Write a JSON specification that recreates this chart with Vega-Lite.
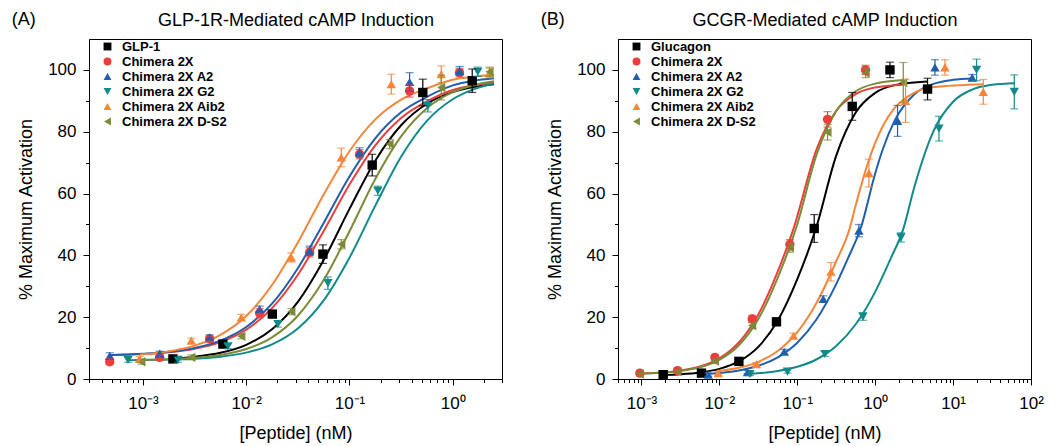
{
  "$schema": "https://vega.github.io/schema/vega-lite/v6.json",
  "padding": {"left": 11, "top": 10, "right": 5, "bottom": 0},
  "spacing": 37,
  "config": {
    "font": "Liberation Sans",
    "view": {"stroke": "black", "strokeWidth": 1},
    "axis": {"grid": false, "domainColor": "black", "tickColor": "black", "labelColor": "black", "titleColor": "black", "labelFontSize": 17, "titleFontSize": 18, "titleFontWeight": "normal", "tickSize": 6, "tickWidth": 1, "domainWidth": 1, "labelFlush": false},
    "legend": {"labelFontSize": 13, "labelFontWeight": "bold", "labelColor": "black", "symbolSize": 62, "symbolStrokeWidth": 0, "rowPadding": 1, "labelOffset": 8, "padding": 0, "labelLimit": 300},
    "title": {"anchor": "start", "frame": "bounds", "fontSize": 18, "fontWeight": "normal", "color": "black", "offset": -18, "dx": -6}
  },
  "datasets": {
    "curvesA": [
      {"s":"GLP-1","x":0.00195,"y":6.56},{"s":"GLP-1","x":0.003162,"y":7.19},{"s":"GLP-1","x":0.005623,"y":8.47},{"s":"GLP-1","x":0.01,"y":11.06},{"s":"GLP-1","x":0.01778,"y":16.08},{"s":"GLP-1","x":0.03162,"y":24.95},{"s":"GLP-1","x":0.05623,"y":38.48},{"s":"GLP-1","x":0.1,"y":55.03},{"s":"GLP-1","x":0.1778,"y":70.64},{"s":"GLP-1","x":0.3162,"y":82.1},{"s":"GLP-1","x":0.5623,"y":89.06},{"s":"GLP-1","x":1,"y":92.82},{"s":"GLP-1","x":1.585,"y":94.44},{"s":"GLP-1","x":2.512,"y":95.36},
      {"s":"Chimera 2X","x":0.000479,"y":7.72},{"s":"Chimera 2X","x":0.001,"y":8.09},{"s":"Chimera 2X","x":0.001778,"y":8.66},{"s":"Chimera 2X","x":0.003162,"y":9.79},{"s":"Chimera 2X","x":0.005623,"y":11.95},{"s":"Chimera 2X","x":0.01,"y":15.96},{"s":"Chimera 2X","x":0.01778,"y":22.92},{"s":"Chimera 2X","x":0.03162,"y":33.71},{"s":"Chimera 2X","x":0.05623,"y":47.89},{"s":"Chimera 2X","x":0.1,"y":62.92},{"s":"Chimera 2X","x":0.1778,"y":75.6},{"s":"Chimera 2X","x":0.3162,"y":84.46},{"s":"Chimera 2X","x":0.5623,"y":89.81},{"s":"Chimera 2X","x":1,"y":93.5},{"s":"Chimera 2X","x":1.585,"y":95},{"s":"Chimera 2X","x":2.512,"y":95.9},
      {"s":"Chimera 2X A2","x":0.000479,"y":7.75},{"s":"Chimera 2X A2","x":0.001,"y":8.15},{"s":"Chimera 2X A2","x":0.001778,"y":8.79},{"s":"Chimera 2X A2","x":0.003162,"y":10.04},{"s":"Chimera 2X A2","x":0.005623,"y":12.43},{"s":"Chimera 2X A2","x":0.01,"y":16.83},{"s":"Chimera 2X A2","x":0.01778,"y":24.36},{"s":"Chimera 2X A2","x":0.03162,"y":35.84},{"s":"Chimera 2X A2","x":0.05623,"y":50.5},{"s":"Chimera 2X A2","x":0.1,"y":65.54},{"s":"Chimera 2X A2","x":0.1778,"y":77.88},{"s":"Chimera 2X A2","x":0.3162,"y":86.28},{"s":"Chimera 2X A2","x":0.5623,"y":91.29},{"s":"Chimera 2X A2","x":1,"y":95},{"s":"Chimera 2X A2","x":1.585,"y":96.5},{"s":"Chimera 2X A2","x":2.512,"y":97.3},
      {"s":"Chimera 2X G2","x":0.000708,"y":6.08},{"s":"Chimera 2X G2","x":0.001778,"y":6.28},{"s":"Chimera 2X G2","x":0.003162,"y":6.58},{"s":"Chimera 2X G2","x":0.005623,"y":7.22},{"s":"Chimera 2X G2","x":0.01,"y":8.54},{"s":"Chimera 2X G2","x":0.01778,"y":11.21},{"s":"Chimera 2X G2","x":0.03162,"y":16.35},{"s":"Chimera 2X G2","x":0.05623,"y":25.44},{"s":"Chimera 2X G2","x":0.1,"y":39.26},{"s":"Chimera 2X G2","x":0.1778,"y":56.1},{"s":"Chimera 2X G2","x":0.3162,"y":71.93},{"s":"Chimera 2X G2","x":0.5623,"y":83.5},{"s":"Chimera 2X G2","x":1,"y":90.5},{"s":"Chimera 2X G2","x":1.585,"y":93.7},{"s":"Chimera 2X G2","x":2.512,"y":95.6},
      {"s":"Chimera 2X Aib2","x":0.000933,"y":7.9},{"s":"Chimera 2X Aib2","x":0.001778,"y":8.94},{"s":"Chimera 2X Aib2","x":0.003162,"y":10.8},{"s":"Chimera 2X Aib2","x":0.005623,"y":14.3},{"s":"Chimera 2X Aib2","x":0.01,"y":20.4},{"s":"Chimera 2X Aib2","x":0.01778,"y":30.4},{"s":"Chimera 2X Aib2","x":0.03162,"y":44.2},{"s":"Chimera 2X Aib2","x":0.05623,"y":59.7},{"s":"Chimera 2X Aib2","x":0.1,"y":73.7},{"s":"Chimera 2X Aib2","x":0.1778,"y":84.0},{"s":"Chimera 2X Aib2","x":0.3162,"y":90.4},{"s":"Chimera 2X Aib2","x":0.5623,"y":94.0},{"s":"Chimera 2X Aib2","x":1,"y":96.8},{"s":"Chimera 2X Aib2","x":1.585,"y":97.8},{"s":"Chimera 2X Aib2","x":2.512,"y":98.4},
      {"s":"Chimera 2X D-S2","x":0.000955,"y":6.19},{"s":"Chimera 2X D-S2","x":0.001778,"y":6.41},{"s":"Chimera 2X D-S2","x":0.003162,"y":6.85},{"s":"Chimera 2X D-S2","x":0.005623,"y":7.78},{"s":"Chimera 2X D-S2","x":0.01,"y":9.69},{"s":"Chimera 2X D-S2","x":0.01778,"y":13.47},{"s":"Chimera 2X D-S2","x":0.03162,"y":20.47},{"s":"Chimera 2X D-S2","x":0.05623,"y":32.0},{"s":"Chimera 2X D-S2","x":0.1,"y":47.8},{"s":"Chimera 2X D-S2","x":0.1778,"y":64.7},{"s":"Chimera 2X D-S2","x":0.3162,"y":78.5},{"s":"Chimera 2X D-S2","x":0.5623,"y":87.6},{"s":"Chimera 2X D-S2","x":1,"y":92.8},{"s":"Chimera 2X D-S2","x":1.585,"y":95.06},{"s":"Chimera 2X D-S2","x":2.512,"y":96.36}
    ],
    "ptsA": [
      {"s":"GLP-1","x":0.00195,"y":6.5,"err":0.8},{"s":"GLP-1","x":0.00594,"y":11.3,"err":1},{"s":"GLP-1","x":0.0179,"y":21,"err":1},{"s":"GLP-1","x":0.0553,"y":40.4,"err":3},{"s":"GLP-1","x":0.166,"y":69.2,"err":3.5},{"s":"GLP-1","x":0.513,"y":92.7,"err":4.3},{"s":"GLP-1","x":1.544,"y":96.5,"err":3.8},
      {"s":"Chimera 2X","x":0.000476,"y":5.6,"err":1},{"s":"Chimera 2X","x":0.00145,"y":7.0,"err":0.8},{"s":"Chimera 2X","x":0.00442,"y":13,"err":0.8},{"s":"Chimera 2X","x":0.01348,"y":21.3,"err":1.5},{"s":"Chimera 2X","x":0.0411,"y":41,"err":1.5},{"s":"Chimera 2X","x":0.1252,"y":72.7,"err":1.5},{"s":"Chimera 2X","x":0.382,"y":93.2,"err":2},{"s":"Chimera 2X","x":1.164,"y":99.1,"err":1.4},
      {"s":"Chimera 2X A2","x":0.000476,"y":7.5,"err":1},{"s":"Chimera 2X A2","x":0.00145,"y":8.2,"err":0.8},{"s":"Chimera 2X A2","x":0.00442,"y":13.5,"err":0.8},{"s":"Chimera 2X A2","x":0.01348,"y":22.6,"err":1},{"s":"Chimera 2X A2","x":0.0411,"y":41.5,"err":1.5},{"s":"Chimera 2X A2","x":0.1252,"y":73.3,"err":1.5},{"s":"Chimera 2X A2","x":0.382,"y":96.1,"err":3},{"s":"Chimera 2X A2","x":1.164,"y":99.7,"err":1.4},
      {"s":"Chimera 2X G2","x":0.000716,"y":6.2,"err":0.8},{"s":"Chimera 2X G2","x":0.00218,"y":6.2,"err":0.8},{"s":"Chimera 2X G2","x":0.00665,"y":10.6,"err":0.8},{"s":"Chimera 2X G2","x":0.02027,"y":17.8,"err":1},{"s":"Chimera 2X G2","x":0.0618,"y":31,"err":2},{"s":"Chimera 2X G2","x":0.1883,"y":60.9,"err":1.5},{"s":"Chimera 2X G2","x":0.574,"y":88.4,"err":2},{"s":"Chimera 2X G2","x":1.75,"y":99.4,"err":1.5},
      {"s":"Chimera 2X Aib2","x":0.000929,"y":6.5,"err":0.8},{"s":"Chimera 2X Aib2","x":0.00294,"y":12.4,"err":0.8},{"s":"Chimera 2X Aib2","x":0.00896,"y":19.9,"err":1},{"s":"Chimera 2X Aib2","x":0.02733,"y":39.3,"err":1.5},{"s":"Chimera 2X Aib2","x":0.0833,"y":71.7,"err":3},{"s":"Chimera 2X Aib2","x":0.2539,"y":95.4,"err":3.2},{"s":"Chimera 2X Aib2","x":0.774,"y":98.6,"err":2.7},{"s":"Chimera 2X Aib2","x":2.271,"y":99,"err":1.5},
      {"s":"Chimera 2X D-S2","x":0.000965,"y":5.6,"err":0.8},{"s":"Chimera 2X D-S2","x":0.00294,"y":7.0,"err":0.8},{"s":"Chimera 2X D-S2","x":0.00896,"y":13.8,"err":0.8},{"s":"Chimera 2X D-S2","x":0.02733,"y":21.8,"err":1},{"s":"Chimera 2X D-S2","x":0.0833,"y":43.6,"err":1.5},{"s":"Chimera 2X D-S2","x":0.2444,"y":76.0,"err":1.5},{"s":"Chimera 2X D-S2","x":0.774,"y":94.3,"err":4},{"s":"Chimera 2X D-S2","x":2.271,"y":99.4,"err":1.5}
    ],
    "curvesB": [
      {"s":"Glucagon","x":0.001905,"y":1.27},{"s":"Glucagon","x":0.003162,"y":1.52},{"s":"Glucagon","x":0.005623,"y":2.09},{"s":"Glucagon","x":0.01,"y":3.28},{"s":"Glucagon","x":0.01778,"y":5.69},{"s":"Glucagon","x":0.03162,"y":10.4},{"s":"Glucagon","x":0.05623,"y":18.9},{"s":"Glucagon","x":0.1,"y":32.3},{"s":"Glucagon","x":0.1738,"y":48.75},{"s":"Glucagon","x":0.3162,"y":72.25},{"s":"Glucagon","x":0.5623,"y":86.2},{"s":"Glucagon","x":1,"y":92.57},{"s":"Glucagon","x":1.778,"y":95.07},{"s":"Glucagon","x":4.677,"y":96.25},
      {"s":"Chimera 2X","x":0.000955,"y":1.76},{"s":"Chimera 2X","x":0.001778,"y":2.08},{"s":"Chimera 2X","x":0.003162,"y":2.71},{"s":"Chimera 2X","x":0.005623,"y":4.02},{"s":"Chimera 2X","x":0.01,"y":6.67},{"s":"Chimera 2X","x":0.01778,"y":11.8},{"s":"Chimera 2X","x":0.03162,"y":20.9},{"s":"Chimera 2X","x":0.05623,"y":34.8},{"s":"Chimera 2X","x":0.08913,"y":48.5},{"s":"Chimera 2X","x":0.1778,"y":74.46},{"s":"Chimera 2X","x":0.3162,"y":86.78},{"s":"Chimera 2X","x":0.5623,"y":92.2},{"s":"Chimera 2X","x":1,"y":94.3},{"s":"Chimera 2X","x":2.291,"y":95.23},
      {"s":"Chimera 2X A2","x":0.007244,"y":1.67},{"s":"Chimera 2X A2","x":0.01778,"y":2.78},{"s":"Chimera 2X A2","x":0.03162,"y":4.29},{"s":"Chimera 2X A2","x":0.05623,"y":7.02},{"s":"Chimera 2X A2","x":0.1,"y":11.75},{"s":"Chimera 2X A2","x":0.1778,"y":19.43},{"s":"Chimera 2X A2","x":0.3162,"y":30.7},{"s":"Chimera 2X A2","x":0.4467,"y":39.0},{"s":"Chimera 2X A2","x":0.6607,"y":49.25},{"s":"Chimera 2X A2","x":1,"y":66.5},{"s":"Chimera 2X A2","x":1.259,"y":74.5},{"s":"Chimera 2X A2","x":1.778,"y":83.6},{"s":"Chimera 2X A2","x":3.162,"y":92.06},{"s":"Chimera 2X A2","x":5.623,"y":95.5},{"s":"Chimera 2X A2","x":10,"y":96.78},{"s":"Chimera 2X A2","x":17.78,"y":97.24},
      {"s":"Chimera 2X G2","x":0.02455,"y":1.65},{"s":"Chimera 2X G2","x":0.05623,"y":2.58},{"s":"Chimera 2X G2","x":0.1,"y":3.94},{"s":"Chimera 2X G2","x":0.1778,"y":6.39},{"s":"Chimera 2X G2","x":0.3162,"y":10.66},{"s":"Chimera 2X G2","x":0.5623,"y":17.7},{"s":"Chimera 2X G2","x":1,"y":28.2},{"s":"Chimera 2X G2","x":1.585,"y":39.0},{"s":"Chimera 2X G2","x":2.291,"y":48.5},{"s":"Chimera 2X G2","x":3.162,"y":61.9},{"s":"Chimera 2X G2","x":5.623,"y":80.3},{"s":"Chimera 2X G2","x":10,"y":89.7},{"s":"Chimera 2X G2","x":17.78,"y":93.7},{"s":"Chimera 2X G2","x":31.62,"y":95.2},{"s":"Chimera 2X G2","x":61.66,"y":95.7},
      {"s":"Chimera 2X Aib2","x":0.009661,"y":2.57},{"s":"Chimera 2X Aib2","x":0.01778,"y":3.64},{"s":"Chimera 2X Aib2","x":0.03162,"y":5.56},{"s":"Chimera 2X Aib2","x":0.05623,"y":9.06},{"s":"Chimera 2X Aib2","x":0.1,"y":15.13},{"s":"Chimera 2X Aib2","x":0.1778,"y":24.76},{"s":"Chimera 2X Aib2","x":0.3162,"y":38.1},{"s":"Chimera 2X Aib2","x":0.4677,"y":48.5},{"s":"Chimera 2X Aib2","x":0.5623,"y":56.2},{"s":"Chimera 2X Aib2","x":0.7943,"y":69.35},{"s":"Chimera 2X Aib2","x":1,"y":76.4},{"s":"Chimera 2X Aib2","x":1.259,"y":81.96},{"s":"Chimera 2X Aib2","x":1.778,"y":87.7},{"s":"Chimera 2X Aib2","x":3.162,"y":92.6},{"s":"Chimera 2X Aib2","x":5.623,"y":94.44},{"s":"Chimera 2X Aib2","x":24.55,"y":95.4},
      {"s":"Chimera 2X D-S2","x":0.000955,"y":1.73},{"s":"Chimera 2X D-S2","x":0.001778,"y":2.02},{"s":"Chimera 2X D-S2","x":0.003162,"y":2.59},{"s":"Chimera 2X D-S2","x":0.005623,"y":3.78},{"s":"Chimera 2X D-S2","x":0.01,"y":6.19},{"s":"Chimera 2X D-S2","x":0.01778,"y":10.9},{"s":"Chimera 2X D-S2","x":0.03162,"y":19.4},{"s":"Chimera 2X D-S2","x":0.05623,"y":32.8},{"s":"Chimera 2X D-S2","x":0.09772,"y":49.25},{"s":"Chimera 2X D-S2","x":0.1778,"y":72.75},{"s":"Chimera 2X D-S2","x":0.3162,"y":86.7},{"s":"Chimera 2X D-S2","x":0.5623,"y":93.1},{"s":"Chimera 2X D-S2","x":1,"y":95.57},{"s":"Chimera 2X D-S2","x":2.291,"y":96.7}
    ],
    "ptsB": [
      {"s":"Glucagon","x":0.0019,"y":1.4,"err":0.5},{"s":"Glucagon","x":0.00589,"y":1.9,"err":0.5},{"s":"Glucagon","x":0.01781,"y":5.7,"err":0.8},{"s":"Glucagon","x":0.0541,"y":18.5,"err":1},{"s":"Glucagon","x":0.165,"y":48.7,"err":4.5},{"s":"Glucagon","x":0.5075,"y":88.2,"err":4.5},{"s":"Glucagon","x":1.547,"y":100,"err":2.5},{"s":"Glucagon","x":4.7,"y":93.8,"err":3.5},
      {"s":"Chimera 2X","x":0.000954,"y":1.9,"err":0.5},{"s":"Chimera 2X","x":0.0029,"y":2.7,"err":0.5},{"s":"Chimera 2X","x":0.00876,"y":7.0,"err":0.8},{"s":"Chimera 2X","x":0.02638,"y":19.4,"err":1.2},{"s":"Chimera 2X","x":0.0804,"y":43.6,"err":1.5},{"s":"Chimera 2X","x":0.2445,"y":84,"err":2.5},{"s":"Chimera 2X","x":0.752,"y":100,"err":1.5},
      {"s":"Chimera 2X A2","x":0.00719,"y":1.4,"err":0.5},{"s":"Chimera 2X A2","x":0.02297,"y":2.2,"err":0.5},{"s":"Chimera 2X A2","x":0.068,"y":8.8,"err":0.8},{"s":"Chimera 2X A2","x":0.2153,"y":25.9,"err":1},{"s":"Chimera 2X A2","x":0.6187,"y":48,"err":2},{"s":"Chimera 2X A2","x":1.937,"y":83.5,"err":5},{"s":"Chimera 2X A2","x":5.85,"y":100.8,"err":2.5},{"s":"Chimera 2X A2","x":17.6,"y":97.5,"err":1},
      {"s":"Chimera 2X G2","x":0.02465,"y":1.6,"err":0.5},{"s":"Chimera 2X G2","x":0.0749,"y":2.4,"err":0.5},{"s":"Chimera 2X G2","x":0.2264,"y":8.1,"err":0.8},{"s":"Chimera 2X G2","x":0.6964,"y":20.2,"err":1.2},{"s":"Chimera 2X G2","x":2.141,"y":45.8,"err":1.5},{"s":"Chimera 2X G2","x":6.59,"y":81,"err":4},{"s":"Chimera 2X G2","x":20.02,"y":100,"err":3.5},{"s":"Chimera 2X G2","x":61.0,"y":92.9,"err":5.5},
      {"s":"Chimera 2X Aib2","x":0.00966,"y":1.9,"err":0.5},{"s":"Chimera 2X Aib2","x":0.02996,"y":4.8,"err":0.5},{"s":"Chimera 2X Aib2","x":0.0895,"y":14,"err":0.8},{"s":"Chimera 2X Aib2","x":0.2703,"y":34.7,"err":3},{"s":"Chimera 2X Aib2","x":0.8316,"y":66.6,"err":4.5},{"s":"Chimera 2X Aib2","x":2.454,"y":90,"err":7},{"s":"Chimera 2X Aib2","x":7.87,"y":100.8,"err":2.5},{"s":"Chimera 2X Aib2","x":24.4,"y":92.9,"err":4},
      {"s":"Chimera 2X D-S2","x":0.000954,"y":1.6,"err":0.5},{"s":"Chimera 2X D-S2","x":0.0029,"y":2.4,"err":0.5},{"s":"Chimera 2X D-S2","x":0.00876,"y":5.8,"err":0.8},{"s":"Chimera 2X D-S2","x":0.02638,"y":17.3,"err":1},{"s":"Chimera 2X D-S2","x":0.0804,"y":42.5,"err":1.5},{"s":"Chimera 2X D-S2","x":0.2445,"y":79.8,"err":2.5},{"s":"Chimera 2X D-S2","x":0.752,"y":99,"err":1.5},{"s":"Chimera 2X D-S2","x":2.293,"y":95.9,"err":6.5}
    ]
  },
  "resolve": {"scale": {"color": "independent", "shape": "independent", "stroke": "independent"}},
  "hconcat": [
    {
      "width": 413, "height": 340,
      "title": {"text": "(A)"},
      "resolve": {"axis": {"x": "independent", "y": "independent"}},
      "layer": [
        {
          "data": {"name": "curvesA"},
          "mark": {"type": "line", "strokeWidth": 2, "interpolate": "monotone"},
          "encoding": {
            "x": {"field": "x", "type": "quantitative", "scale": {"type": "log", "domain": [0.0003, 3], "nice": false},
                  "axis": {"orient": "bottom", "values": [0.001, 0.01, 0.1, 1], "labelPadding": 10, "titlePadding": 13, "title": "[Peptide] (nM)",
                           "labelExpr": "datum.value < 0.005 ? '10⁻³' : datum.value < 0.05 ? '10⁻²' : datum.value < 0.5 ? '10⁻¹' : '10⁰'"}},
            "y": {"field": "y", "type": "quantitative", "scale": {"domain": [0, 110], "nice": false},
                  "axis": {"orient": "left", "values": [0, 20, 40, 60, 80, 100], "labelPadding": 7, "titlePadding": 12, "title": "% Maximum Activation"}},
            "stroke": {"field": "s", "type": "nominal", "legend": null,
                      "scale": {"range": ["#ec3f3c", "#1f5fae", "#f5863a", "#7b8b38", "#128a8a", "#000000"]}}
          }
        },
        {
          "data": {"name": "ptsA"},
          "mark": {"type": "point", "filled": true, "size": 88, "opacity": 1},
          "encoding": {
            "x": {"field": "x", "type": "quantitative", "scale": {"type": "log"},
                  "axis": {"orient": "bottom", "title": null, "labels": false, "domain": false, "tickSize": 3.5,
                           "values": [0.0003, 0.0004, 0.0005, 0.0006, 0.0007, 0.0008, 0.0009, 0.002, 0.003, 0.004, 0.005, 0.006, 0.007, 0.008, 0.009, 0.02, 0.03, 0.04, 0.05, 0.06, 0.07, 0.08, 0.09, 0.2, 0.3, 0.4, 0.5, 0.6, 0.7, 0.8, 0.9, 2, 3]}},
            "y": {"field": "y", "type": "quantitative",
                  "axis": {"orient": "left", "title": null, "labels": false, "domain": false, "tickSize": 3.5, "values": [10, 30, 50, 70, 90]}},
            "color": {"field": "s", "type": "nominal", "legend": {"title": null, "orient": "none", "legendX": 12, "legendY": 1},
                      "scale": {"domain": ["GLP-1", "Chimera 2X", "Chimera 2X A2", "Chimera 2X G2", "Chimera 2X Aib2", "Chimera 2X D-S2"],
                                "range": ["#000000", "#ec3f3c", "#1f5fae", "#128a8a", "#f5863a", "#7b8b38"]}},
            "shape": {"field": "s", "type": "nominal", "legend": {"title": null, "orient": "none", "legendX": 12, "legendY": 1},
                      "scale": {"domain": ["GLP-1", "Chimera 2X", "Chimera 2X A2", "Chimera 2X G2", "Chimera 2X Aib2", "Chimera 2X D-S2"],
                                "range": ["square", "circle", "triangle-up", "triangle-down", "triangle-up", "triangle-left"]}}
          }
        },
        {
          "data": {"name": "ptsA"},
          "mark": {"type": "errorbar", "ticks": {"size": 8}, "thickness": 1.2},
          "encoding": {
            "x": {"field": "x", "type": "quantitative", "scale": {"type": "log"},
                  "axis": {"orient": "top", "title": "GLP-1R-Mediated cAMP Induction", "domain": false, "ticks": false, "labels": false, "titlePadding": 10}},
            "y": {"field": "y", "type": "quantitative", "axis": null},
            "yError": {"field": "err"},
            "color": {"field": "s", "type": "nominal"}
          }
        }
      ]
    },
    {
      "width": 413, "height": 340,
      "title": {"text": "(B)"},
      "resolve": {"axis": {"x": "independent", "y": "independent"}},
      "layer": [
        {
          "data": {"name": "curvesB"},
          "mark": {"type": "line", "strokeWidth": 2, "interpolate": "monotone"},
          "encoding": {
            "x": {"field": "x", "type": "quantitative", "scale": {"type": "log", "domain": [0.0005, 100], "nice": false},
                  "axis": {"orient": "bottom", "values": [0.001, 0.01, 0.1, 1, 10, 100], "labelPadding": 10, "titlePadding": 13, "title": "[Peptide] (nM)",
                           "labelExpr": "datum.value < 0.005 ? '10⁻³' : datum.value < 0.05 ? '10⁻²' : datum.value < 0.5 ? '10⁻¹' : datum.value < 5 ? '10⁰' : datum.value < 50 ? '10¹' : '10²'"}},
            "y": {"field": "y", "type": "quantitative", "scale": {"domain": [0, 110], "nice": false},
                  "axis": {"orient": "left", "values": [0, 20, 40, 60, 80, 100], "labelPadding": 7, "titlePadding": 12, "title": "% Maximum Activation"}},
            "stroke": {"field": "s", "type": "nominal", "legend": null,
                      "scale": {"range": ["#ec3f3c", "#1f5fae", "#f5863a", "#7b8b38", "#128a8a", "#000000"]}}
          }
        },
        {
          "data": {"name": "ptsB"},
          "mark": {"type": "point", "filled": true, "size": 88, "opacity": 1},
          "encoding": {
            "x": {"field": "x", "type": "quantitative", "scale": {"type": "log"},
                  "axis": {"orient": "bottom", "title": null, "labels": false, "domain": false, "tickSize": 3.5,
                           "values": [0.0005, 0.0006, 0.0007, 0.0008, 0.0009, 0.002, 0.003, 0.004, 0.005, 0.006, 0.007, 0.008, 0.009, 0.02, 0.03, 0.04, 0.05, 0.06, 0.07, 0.08, 0.09, 0.2, 0.3, 0.4, 0.5, 0.6, 0.7, 0.8, 0.9, 2, 3, 4, 5, 6, 7, 8, 9, 20, 30, 40, 50, 60, 70, 80, 90]}},
            "y": {"field": "y", "type": "quantitative",
                  "axis": {"orient": "left", "title": null, "labels": false, "domain": false, "tickSize": 3.5, "values": [10, 30, 50, 70, 90]}},
            "color": {"field": "s", "type": "nominal", "legend": {"title": null, "orient": "none", "legendX": 12, "legendY": 1},
                      "scale": {"domain": ["Glucagon", "Chimera 2X", "Chimera 2X A2", "Chimera 2X G2", "Chimera 2X Aib2", "Chimera 2X D-S2"],
                                "range": ["#000000", "#ec3f3c", "#1f5fae", "#128a8a", "#f5863a", "#7b8b38"]}},
            "shape": {"field": "s", "type": "nominal", "legend": {"title": null, "orient": "none", "legendX": 12, "legendY": 1},
                      "scale": {"domain": ["Glucagon", "Chimera 2X", "Chimera 2X A2", "Chimera 2X G2", "Chimera 2X Aib2", "Chimera 2X D-S2"],
                                "range": ["square", "circle", "triangle-up", "triangle-down", "triangle-up", "triangle-left"]}}
          }
        },
        {
          "data": {"name": "ptsB"},
          "mark": {"type": "errorbar", "ticks": {"size": 8}, "thickness": 1.2},
          "encoding": {
            "x": {"field": "x", "type": "quantitative", "scale": {"type": "log"},
                  "axis": {"orient": "top", "title": "GCGR-Mediated cAMP Induction", "domain": false, "ticks": false, "labels": false, "titlePadding": 10}},
            "y": {"field": "y", "type": "quantitative", "axis": null},
            "yError": {"field": "err"},
            "color": {"field": "s", "type": "nominal"}
          }
        }
      ]
    }
  ]
}
